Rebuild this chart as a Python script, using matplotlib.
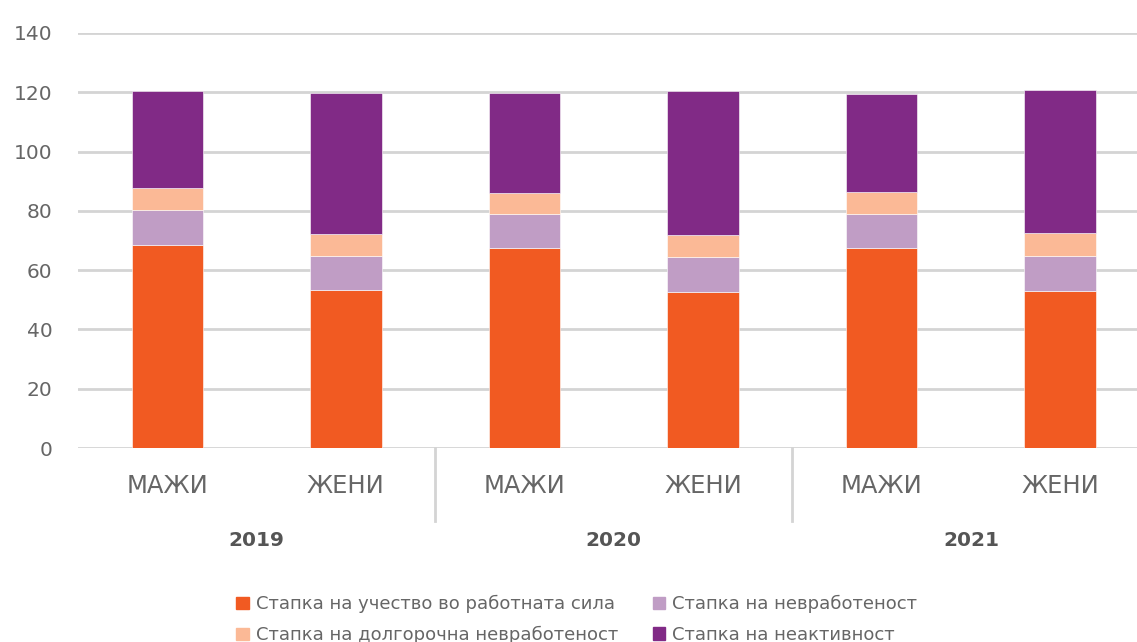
import matplotlib.pyplot as plt
import matplotlib.patches as mpatches
import numpy as np

plt.rcParams['font.family'] = ['DejaVu Sans']

years = ['2019', '2020', '2021']
genders = ['МАЖИ', 'ЖЕНИ']

participation = [68.6, 53.3, 67.6, 52.6, 67.6, 53.0]
unemployment = [11.8, 11.6, 11.4, 11.9, 11.4, 11.9]
long_unemployment = [7.4, 7.4, 7.1, 7.4, 7.2, 7.7]
inactivity = [32.5, 47.6, 33.7, 48.4, 33.2, 48.2]

series_names = ['Стапка на учество во работната сила', 'Стапка на невработеност',
                'Стапка на долгорочна невработеност', 'Стапка на неактивност']
colors = ['#F15A22', '#C09DC5', '#FBB996', '#812A86']

fig = plt.figure(figsize=(11.37, 6.42), dpi=100)
ax = fig.add_axes([78 / 1137, 1 - 448 / 642, 1 - 78 / 1137, 415 / 642])

x = np.arange(len(participation))
bottom = np.zeros(len(x))
for vals, c in zip([participation, unemployment, long_unemployment, inactivity], colors):
    ax.bar(x, vals, width=0.4, bottom=bottom, color=c, edgecolor='white', linewidth=0.4, zorder=3)
    bottom += np.array(vals)

ax.set_ylim(0, 140)
ax.set_xlim(-0.5, 5.43)
ax.set_yticks(range(0, 141, 20))
ax.yaxis.grid(True, color='#d4d4d4', linewidth=2, zorder=0)
ax.tick_params(axis='y', length=0, pad=18.5, labelsize=14.5, labelcolor='#666666')
ax.set_xticks([])
for s in ax.spines.values():
    s.set_visible(False)

# category labels and year labels
for i in x:
    ax.text(i, -12.8, genders[i % 2], ha='center', va='center', fontsize=17.5,
            color='#666666', clip_on=False)
for j, yr in enumerate(years):
    ax.text(2 * j + 0.5, -31.3, yr, ha='center', va='center', fontsize=14.5,
            fontweight='bold', color='#555555', clip_on=False)
for sep in [1.5, 3.5]:
    ax.plot([sep, sep], [0, -24.5], color='#d4d4d4', linewidth=2, clip_on=False)

# legend fills column-wise, so order handles to get the reference rows
order = [0, 2, 1, 3]
handles = [mpatches.Patch(color=colors[k], label=series_names[k]) for k in order]
fig.legend(handles=handles, loc='upper left', bbox_to_anchor=(229 / 1137, 1 - 588 / 642),
           ncol=2, frameon=False, fontsize=13, labelcolor='#666666',
           handlelength=0.7, handleheight=0.7, handletextpad=0.4, columnspacing=1.9,
           labelspacing=0.7, borderaxespad=0)

fig.savefig('out.png', dpi=100)
